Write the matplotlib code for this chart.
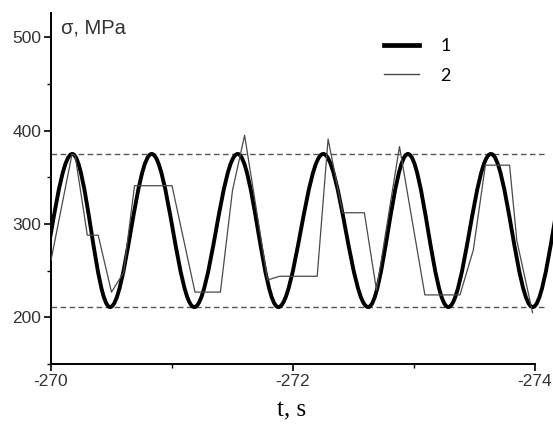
import matplotlib
matplotlib.use("Agg")
import matplotlib.pyplot as plt
from matplotlib.path import Path
from matplotlib.patches import PathPatch
from matplotlib.lines import Line2D
from matplotlib.ticker import MultipleLocator

# curve 1: extrema of the fitted oscillation (time, stress)
ext_t = [-269.83, -270.176, -270.488, -270.832, -271.184, -271.543, -271.879,
         -272.250, -272.622, -272.950, -273.283, -273.636, -273.981, -274.32]
ext_v = [211, 375, 211, 375, 211, 375, 211, 375, 211, 375, 211, 375, 211, 375]

# curve 2: measured stepwise signal
meas_t = [-270.0, -270.174, -270.20, -270.30, -270.39, -270.50, -270.60, -270.69,
          -271.00, -271.19, -271.40, -271.50, -271.60, -271.79, -271.89, -272.20,
          -272.29, -272.41, -272.59, -272.69, -272.88, -273.09, -273.38, -273.49,
          -273.59, -273.79, -273.85, -273.98]
meas_v = [261, 375, 373, 288, 288, 227, 248, 341,
          341, 227, 227, 336, 395, 240, 244, 244,
          391, 312, 312, 229, 383, 224, 224, 272,
          363, 363, 282, 205]

# dashed bounds
upper_level = 375
lower_level = 211

fig = plt.figure(figsize=(5.53, 4.28), dpi=100)
ax = fig.add_axes([51 / 553, 1 - 364 / 428, 1 - 51 / 553, (364 - 13) / 428])

# smooth curve through extrema: cubic Bezier half-waves
c = 0.364
verts = [(ext_t[0], ext_v[0])]
codes = [Path.MOVETO]
for i in range(len(ext_t) - 1):
    t0, t1 = ext_t[i], ext_t[i + 1]
    dt = t1 - t0
    verts += [(t0 + c * dt, ext_v[i]), (t1 - c * dt, ext_v[i + 1]), (t1, ext_v[i + 1])]
    codes += [Path.CURVE4] * 3
ax.add_patch(PathPatch(Path(verts, codes), fill=False, edgecolor="black",
                       linewidth=2.8, zorder=3))

ax.plot(meas_t, meas_v, color="#4a4a4a", linewidth=0.9, zorder=4)

for lvl in (upper_level, lower_level):
    ax.plot([-270, -274.08], [lvl, lvl], color="#555555", linewidth=1.0,
            dashes=(4, 2.5), zorder=2)

ax.set_xlim(-270, -270 - (553 - 51) / 121)
ax.set_ylim(150, 526)

for s in ("top", "right"):
    ax.spines[s].set_visible(False)
for s in ("left", "bottom"):
    ax.spines[s].set_linewidth(1.4)
ax.spines["bottom"].set_bounds(-274, -270)

ax.set_xticks([-270, -272, -274])
ax.set_xticklabels(["-270", "-272", "-274"])
ax.xaxis.set_minor_locator(MultipleLocator(1))
ax.set_yticks([200, 300, 400, 500])
ax.yaxis.set_minor_locator(MultipleLocator(50))
ax.tick_params(which="major", length=5, width=1.2, direction="out",
               labelsize=12.5, labelcolor="#333333", pad=2)
ax.tick_params(which="minor", length=3, width=1.0, direction="out")
for lab in ax.get_xticklabels() + ax.get_yticklabels():
    lab.set_family("Liberation Sans")

fig.text(61 / 553, 1 - 28 / 428, "\u03c3, MPa", fontsize=14.5,
         family="Liberation Sans", va="center", ha="left", color="#333333")
fig.text(292 / 553, 1 - 410 / 428, "t, s", fontsize=18, family="Liberation Serif",
         ha="center", va="center")

handles = [Line2D([], [], color="black", linewidth=3.4),
           Line2D([], [], color="#4a4a4a", linewidth=1.0)]
leg = ax.legend(handles, ["1", "2"], loc="upper left", frameon=False,
                bbox_to_anchor=(368 / 553, 1 - 22 / 428),
                bbox_transform=fig.transFigure, handlelength=1.9,
                handletextpad=1.2, labelspacing=0.75,
                prop={"family": "Lato", "size": 13})

fig.savefig("out.png", dpi=100)
